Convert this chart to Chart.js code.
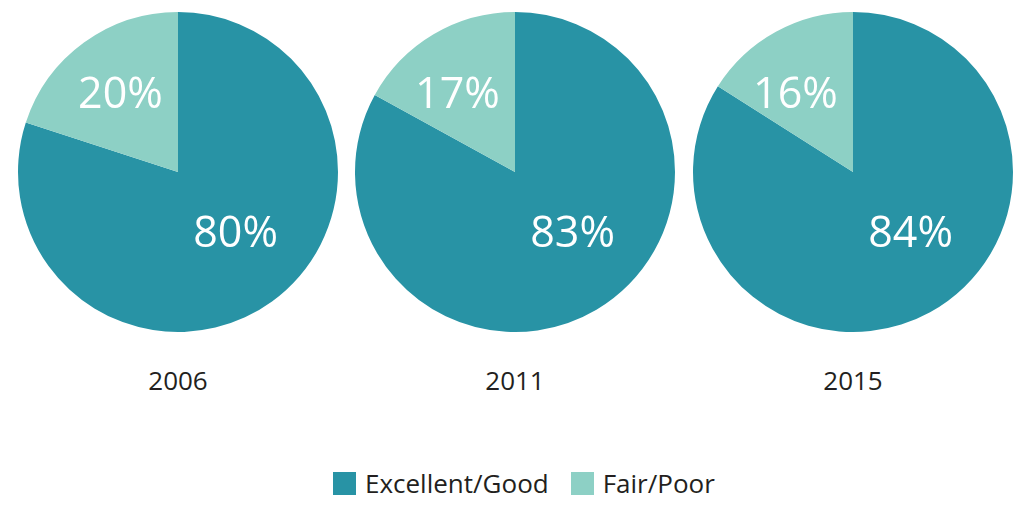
<!DOCTYPE html>
<html>
<head>
<meta charset="utf-8">
<script src="https://cdn.jsdelivr.net/npm/chart.js@4"></script>
<style>
  body { margin: 0; background: #fff; font-family: "Open Sans", sans-serif; color: #231f20; }
  #wrap { position: relative; width: 1024px; height: 510px; overflow: hidden; }
  .pie { position: absolute; top: 8px; width: 338px; height: 328px; }
  .year { position: absolute; top: 362px; width: 338px; text-align: center; font-size: 26px; }
  #legend { position: absolute; top: 465px; left: 333px; display: flex; align-items: center; font-size: 26px; }
  .box { width: 23px; height: 23px; margin-right: 9px; }
</style>
</head>
<body>
<div id="wrap">
  <div class="pie" style="left:9px"><canvas id="pie0"></canvas></div>
  <div class="pie" style="left:346px"><canvas id="pie1"></canvas></div>
  <div class="pie" style="left:684px"><canvas id="pie2"></canvas></div>
  <div id="years"></div>
  <div id="legend"></div>
</div>
<script>
// data
const years = ['2006', '2011', '2015'];
const categories = ['Excellent/Good', 'Fair/Poor'];
const goodValues = [80, 83, 84];
const poorValues = [20, 17, 16];
const colors = ['#2893a5', '#8dd0c5'];
const leftPos = [9, 346, 684];

// percent labels, placed relative to pie center
const labelOffsets = [[0.36, 0.39], [-0.36, -0.475]];
const pctLabels = {
    id: 'pctLabels',
    afterDatasetsDraw(chart) {
        const ctx = chart.ctx;
        const meta = chart.getDatasetMeta(0);
        ctx.save();
        ctx.fillStyle = '#fff';
        ctx.font = '43px "Open Sans"';
        ctx.textAlign = 'center';
        ctx.textBaseline = 'middle';
        meta.data.forEach((arc, i) => {
            const r = arc.outerRadius;
            const x = arc.x + labelOffsets[i][0] * r;
            const y = arc.y + labelOffsets[i][1] * r;
            ctx.fillText(chart.data.datasets[0].data[i] + '%', x, y);
        });
        ctx.restore();
    }
};

years.forEach((yr, i) => {
    const ctx = document.getElementById('pie' + i).getContext('2d');
    new Chart(ctx, {
        type: 'pie',
        data: {
            labels: categories,
            datasets: [{
                data: [goodValues[i], poorValues[i]],
                backgroundColor: colors,
                borderWidth: 0
            }]
        },
        options: {
            responsive: true,
            maintainAspectRatio: false,
            animation: false,
            layout: { padding: 4 },
            plugins: {
                legend: { display: false },
                tooltip: { enabled: false }
            }
        },
        plugins: [pctLabels]
    });

    const el = document.createElement('div');
    el.className = 'year';
    el.style.left = leftPos[i] + 'px';
    el.textContent = yr;
    document.getElementById('years').appendChild(el);
});

// legend
const legend = document.getElementById('legend');
categories.forEach((cat, i) => {
    const box = document.createElement('div');
    box.className = 'box';
    box.style.background = colors[i];
    const txt = document.createElement('span');
    txt.textContent = cat;
    txt.style.marginRight = i === 0 ? '22px' : '0';
    legend.appendChild(box);
    legend.appendChild(txt);
});
</script>
</body>
</html>
